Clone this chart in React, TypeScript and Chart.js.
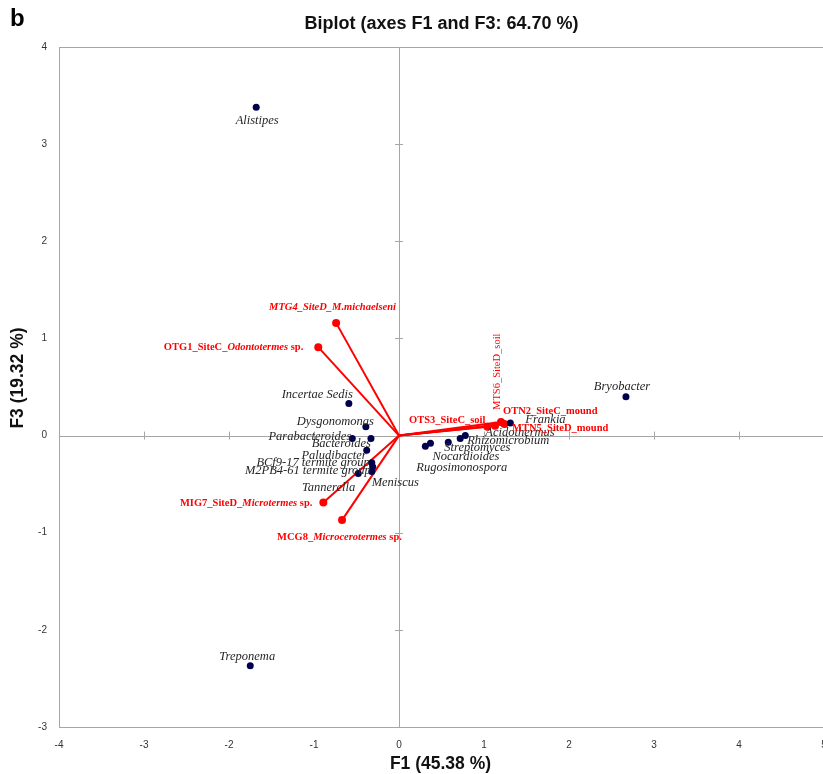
import React, { useEffect, useRef } from "react";
import { Chart, registerables } from "chart.js";
Chart.register(...registerables);

const PANEL_LETTER = "b";
const TITLE = "Biplot (axes F1 and F3: 64.70 %)";
const X_TITLE = "F1 (45.38 %)";
const Y_TITLE = "F3 (19.32 %)";
const X_MIN = -4;
const X_MAX = 5;
const Y_MIN = -3;
const Y_MAX = 4;

// Observations (taxa)
const taxa = [
  "Alistipes", "Treponema", "Bryobacter", "Incertae Sedis", "Dysgonomonas",
  "Parabacteroides", "Bacteroides", "Paludibacter", "BCf9-17 termite group",
  "Meniscus", "M2PB4-61 termite group", "Tannerella", "Frankia", "Acidothermus",
  "Rhizomicrobium", "Streptomyces", "Nocardioides", "Rugosimonospora",
];
const taxaF1 = [-1.68, -1.75, 2.67, -0.59, -0.39, -0.55, -0.33, -0.38, -0.32, -0.31, -0.32, -0.48, 1.31, 0.78, 0.72, 0.58, 0.37, 0.31];
const taxaF3 = [3.38, -2.37, 0.4, 0.33, 0.09, -0.03, -0.03, -0.15, -0.28, -0.32, -0.37, -0.39, 0.13, 0.0, -0.03, -0.07, -0.08, -0.11];

// Variables (samples) – '*' toggles italic
const samples = [
  "*MTG4_SiteD_M.michaelseni*", "OTG1_SiteC_*Odontotermes* sp.", "MIG7_SiteD_*Microtermes* sp.",
  "MCG8_*Microcerotermes* sp.", "OTS3_SiteC_soil", "OTN2_SiteC_mound", "MTN5_SiteD_mound", "MTS6_SiteD_soil",
];
const sampleF1 = [-0.74, -0.95, -0.89, -0.67, 1.04, 1.2, 1.13, 1.24];
const sampleF3 = [1.16, 0.91, -0.69, -0.87, 0.09, 0.14, 0.1, 0.12];

// label placement (pixel offsets from the mark, styling only)
const taxaLabelStyle: [number, number, CanvasTextAlign][] = [
  [1, 13, "center"], [-3, -9, "center"], [-4, -10, "center"], [4, -9, "right"], [8, -5, "right"],
  [-1, -2, "right"], [0, 5, "right"], [0, 6, "right"], [-2, 0, "right"], [-1, 16, "left"],
  [-1, -1, "right"], [-3, 14, "right"], [15, -3, "left"], [20, -3, "left"], [7, 2, "left"],
  [-4, 5, "left"], [2, 13, "left"], [-9, 21, "left"],
];
const sampleLabelStyle: [number, number, CanvasTextAlign, number][] = [
  [-67, -16, "left", 0], [-15, 0, "right", 0], [-11, 1, "right", 0], [-65, 17, "left", 0],
  [-2, -7, "right", 0], [2, -11, "left", 0], [17, 2, "left", 0], [-7, -14, "left", -90],
];

const SERIF = "'Liberation Serif', 'Times New Roman', serif";
const SANS = "'Liberation Sans', Arial, sans-serif";
const RED = "#ff0000";
const NAVY = "#00004d";
const FRAME = "#a6a6a6";

function drawRich(
  ctx: CanvasRenderingContext2D, text: string, x: number, y: number,
  align: CanvasTextAlign, size: number, bold: boolean, color: string
) {
  const parts = text.split("*");
  const segs = parts.map((t, i) => ({ t, it: i % 2 === 1 })).filter((s) => s.t.length);
  const font = (it: boolean) => `${it ? "italic " : ""}${bold ? "bold " : ""}${size}px ${SERIF}`;
  let total = 0;
  for (const s of segs) { ctx.font = font(s.it); total += ctx.measureText(s.t).width; }
  let sx = x;
  if (align === "center") sx = x - total / 2;
  else if (align === "right") sx = x - total;
  ctx.textAlign = "left";
  ctx.textBaseline = "middle";
  ctx.fillStyle = color;
  for (const s of segs) {
    ctx.font = font(s.it);
    ctx.fillText(s.t, sx, y);
    sx += ctx.measureText(s.t).width;
  }
}

const biplotPlugin = {
  id: "biplot",
  beforeDatasetsDraw(chart: any) {
    const { ctx, chartArea: a, scales } = chart;
    const xs = scales.x, ys = scales.y;
    const x0 = xs.getPixelForValue(0), y0 = ys.getPixelForValue(0);
    ctx.save();
    ctx.strokeStyle = FRAME;
    ctx.lineWidth = 1;
    ctx.strokeRect(Math.round(a.left) + 0.5, Math.round(a.top) + 0.5, Math.round(a.right - a.left), Math.round(a.bottom - a.top));
    ctx.beginPath();
    ctx.moveTo(Math.round(x0) + 0.5, a.top);
    ctx.lineTo(Math.round(x0) + 0.5, a.bottom);
    ctx.moveTo(a.left, Math.round(y0) + 0.5);
    ctx.lineTo(a.right, Math.round(y0) + 0.5);
    for (let v = X_MIN + 1; v < X_MAX; v++) {
      if (v === 0) continue;
      const px = Math.round(xs.getPixelForValue(v)) + 0.5;
      ctx.moveTo(px, y0 - 4);
      ctx.lineTo(px, y0 + 4);
    }
    for (let v = Y_MIN + 1; v < Y_MAX; v++) {
      if (v === 0) continue;
      const py = Math.round(ys.getPixelForValue(v)) + 0.5;
      ctx.moveTo(x0 - 4, py);
      ctx.lineTo(x0 + 4, py);
    }
    ctx.stroke();
    ctx.restore();
  },
  afterDatasetsDraw(chart: any) {
    const { ctx, scales } = chart;
    const xs = scales.x, ys = scales.y;
    ctx.save();
    taxa.forEach((name, i) => {
      const [dx, dy, al] = taxaLabelStyle[i];
      const px = xs.getPixelForValue(taxaF1[i]);
      const py = ys.getPixelForValue(taxaF3[i]);
      drawRich(ctx, "*" + name + "*", px + dx, py + dy, al, 12.5, false, "#262626");
    });
    samples.forEach((name, i) => {
      const [dx, dy, al, rot] = sampleLabelStyle[i];
      const px = xs.getPixelForValue(sampleF1[i]);
      const py = ys.getPixelForValue(sampleF3[i]);
      if (rot) {
        ctx.save();
        ctx.translate(px + dx, py + dy);
        ctx.rotate((rot * Math.PI) / 180);
        drawRich(ctx, name, 0, 0, al, 10.5, false, RED);
        ctx.restore();
      } else {
        drawRich(ctx, name, px + dx, py + dy, al, 10.5, true, RED);
      }
    });
    ctx.restore();
  },
  afterDraw(chart: any) {
    const { ctx, chartArea: a } = chart;
    const cx = (a.left + a.right) / 2;
    ctx.save();
    ctx.fillStyle = "#000";
    ctx.textBaseline = "middle";
    ctx.textAlign = "left";
    ctx.font = `bold 24px ${SANS}`;
    ctx.fillText(PANEL_LETTER, 10, 19);
    ctx.textAlign = "center";
    ctx.fillStyle = "#111";
    ctx.font = `bold 18px ${SANS}`;
    ctx.fillText(TITLE, cx, 24);
    ctx.font = `bold 17.5px ${SANS}`;
    ctx.fillText(X_TITLE, cx - 1, 764);
    ctx.translate(18, 378);
    ctx.rotate(-Math.PI / 2);
    ctx.fillText(Y_TITLE, 0, 0);
    ctx.restore();
  },
};

export default function App() {
  const ref = useRef<HTMLCanvasElement>(null);
  useEffect(() => {
    if (!ref.current) return;
    const taxaData = taxa.map((_, i) => ({ x: taxaF1[i], y: taxaF3[i] }));
    const vectorSets = samples.map((name, i) => ({
      label: name,
      data: [{ x: 0, y: 0 }, { x: sampleF1[i], y: sampleF3[i] }],
      showLine: true,
      borderColor: RED,
      borderWidth: 2,
      pointRadius: [0, 4],
      pointBackgroundColor: RED,
      pointBorderWidth: 0,
      order: 2,
    }));
    const chart = new Chart(ref.current, {
      type: "scatter",
      data: {
        datasets: [
          ...vectorSets,
          {
            label: "taxa",
            data: taxaData,
            pointRadius: 3.5,
            pointBackgroundColor: NAVY,
            pointBorderWidth: 0,
            showLine: false,
            order: 1,
          },
        ] as any,
      },
      options: {
        animation: false,
        responsive: false,
        devicePixelRatio: 1,
        layout: { padding: { top: 47, right: 16, left: 0, bottom: 0 } },
        plugins: { legend: { display: false }, tooltip: { enabled: false }, title: { display: false } },
        scales: {
          x: {
            type: "linear",
            min: X_MIN,
            max: X_MAX,
            grid: { display: false, drawTicks: false },
            border: { display: false },
            ticks: { stepSize: 1, padding: 12, color: "#333", font: { family: SANS, size: 10 } },
            afterFit: (s: any) => { s.height = 47; },
          },
          y: {
            type: "linear",
            min: Y_MIN,
            max: Y_MAX,
            grid: { display: false, drawTicks: false },
            border: { display: false },
            ticks: { stepSize: 1, padding: 12, color: "#333", font: { family: SANS, size: 10 } },
            afterFit: (s: any) => { s.width = 59; },
          },
        },
      },
      plugins: [biplotPlugin],
    });
    return () => chart.destroy();
  }, []);
  return (
    <div style={{ position: "fixed", left: 0, top: 0, width: 823, height: 774, overflow: "hidden", background: "#fff" }}>
      <canvas ref={ref} width={840} height={774} style={{ display: "block" }} />
    </div>
  );
}
